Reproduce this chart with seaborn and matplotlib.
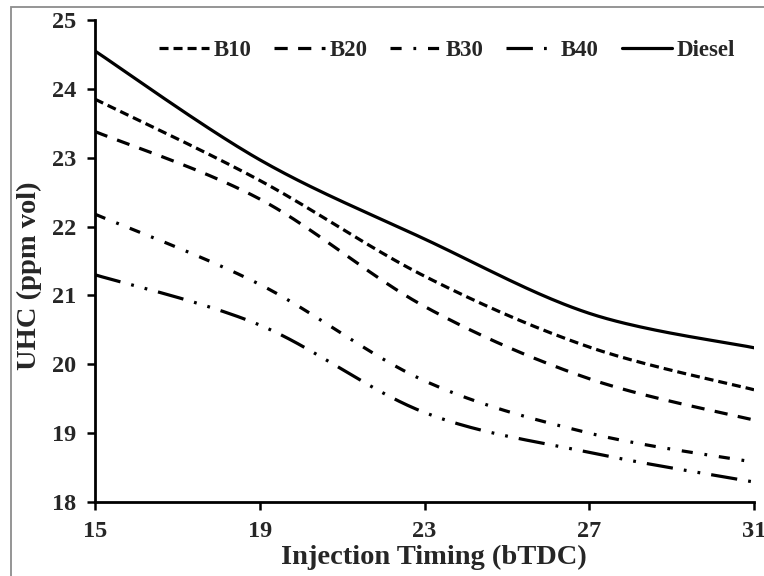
import numpy as np
import pandas as pd
import matplotlib
matplotlib.use("Agg")
import matplotlib.pyplot as plt
import seaborn as sns
from matplotlib.patches import Rectangle

# ---- data ----
timing = [15, 19, 23, 27, 31]
xticks = [15, 19, 23, 27, 31]
yticks = [18, 19, 20, 21, 22, 23, 24, 25]
series_names = ["B10", "B20", "B30", "B40", "Diesel"]
b10 = [23.85, 22.67, 21.28, 20.25, 19.63]
b20 = [23.38, 22.40, 20.84, 19.79, 19.19]
b30 = [22.18, 21.16, 19.76, 19.00, 18.58]
b40 = [21.30, 20.57, 19.30, 18.72, 18.29]
diesel = [24.55, 22.97, 21.82, 20.74, 20.24]
values = [b10, b20, b30, b40, diesel]

sns.set_theme(style="white")
plt.rcParams["font.family"] = ["Liberation Serif", "DejaVu Serif"]
plt.rcParams["font.weight"] = "bold"
plt.rcParams["lines.scale_dashes"] = False


def smooth(xs, ys, n=40):
    """Excel-like smoothed line (Catmull-Rom bezier) through the points."""
    P = np.column_stack([xs, ys]).astype(float)
    out = [P[0]]
    m = len(P)
    for i in range(m - 1):
        p0 = P[i - 1] if i > 0 else P[i]
        p1 = P[i]
        p2 = P[i + 1]
        p3 = P[i + 2] if i + 2 < m else P[i + 1]
        c1 = p1 + (p2 - p0) / 6.0
        c2 = p2 - (p3 - p1) / 6.0
        t = np.linspace(0, 1, n)[1:, None]
        seg = ((1 - t) ** 3) * p1 + 3 * ((1 - t) ** 2) * t * c1 + 3 * (1 - t) * t ** 2 * c2 + t ** 3 * p2
        out.extend(seg)
    out = np.array(out)
    return out[:, 0], out[:, 1]


W, H = 764, 576
fig = plt.figure(figsize=(W / 100, H / 100), dpi=100)
ax = fig.add_axes([95 / W, 1 - 502 / H, (754 - 95) / W, (502 - 20) / H])

lw = 2.3
styles = {
    "B10": (0, (6.5, 3.6)),
    "B20": (0, (9.5, 7.5)),
    "B30": (0, (8.0, 8.5, 2.0, 8.5)),
    "B40": (0, (19.0, 8.0, 2.0, 8.0, 2.0, 8.0)),
    "Diesel": "solid",
}

handles = []
for name, vals in zip(series_names, values):
    sx, sy = smooth(timing, vals)
    df = pd.DataFrame({"x": sx, "y": sy})
    sns.lineplot(data=df, x="x", y="y", ax=ax, color="black", lw=lw,
                 linestyle=styles[name], sort=False, estimator=None)
    line = ax.get_lines()[-1]
    line.set_label(name)
    handles.append(line)

ax.set_xlim(15, 31)
ax.set_ylim(18, 25)
ax.set_xticks(xticks)
ax.set_yticks(yticks)
ax.tick_params(axis="both", which="major", direction="out", length=5.5, width=1.8,
               color="black", labelsize=17.5, pad=8, bottom=True, left=True)
for lab in ax.get_xticklabels() + ax.get_yticklabels():
    lab.set_fontweight("bold")

for s in ["top", "right"]:
    ax.spines[s].set_visible(False)
for s in ["left", "bottom"]:
    ax.spines[s].set_color("black")
    ax.spines[s].set_linewidth(2.0)

ax.set_xlabel("Injection Timing (bTDC)", fontsize=20.5, fontweight="bold")
ax.xaxis.set_label_coords(0.514, -0.088)
ax.set_ylabel("UHC (ppm vol)", fontsize=20.5, fontweight="bold")
ax.yaxis.set_label_coords(-0.080, 0.47)

leg = ax.legend(handles=handles, labels=series_names, ncol=5, frameon=False,
                loc="center", bbox_to_anchor=(447 / W, 1 - 50 / H),
                bbox_transform=fig.transFigure, fontsize=16.5,
                handlelength=2.2, handletextpad=0.2, columnspacing=1.0)
for t in leg.get_texts():
    t.set_fontweight("bold")

# outer chart-area border (cropped at right/bottom)
fig.patches.append(Rectangle((11 / W, -0.05), 1.2, 1 - 7 / H + 0.05,
                             transform=fig.transFigure, fill=False,
                             edgecolor="#8c8c8c", linewidth=1.3))

fig.savefig("out.png", dpi=100, facecolor="white")
